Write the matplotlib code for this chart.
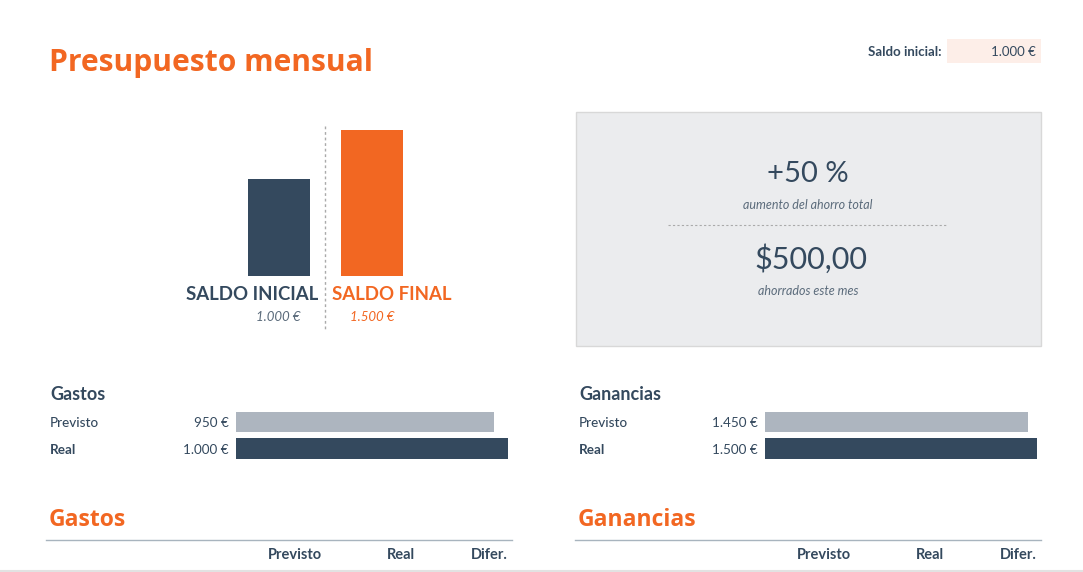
import matplotlib.pyplot as plt
from matplotlib.patches import Rectangle

# datos
saldo_inicial = 1000
saldo_final = 1500
saldo_labels = ['SALDO INICIAL', 'SALDO FINAL']
filas = ['Previsto', 'Real']
gastos = [950, 1000]
ganancias = [1450, 1500]
columnas = ['Previsto', 'Real', 'Difer.']

NAVY = '#34495E'
ORANGE = '#F26722'
GREY_BAR = '#ADB5BF'
SUB = '#5B6B7B'
TITLE_FONT = ['Open Sans', 'DejaVu Sans']

plt.rcParams['font.family'] = ['Lato', 'DejaVu Sans']

W, H = 1083, 572
fig = plt.figure(figsize=(W / 100, H / 100), dpi=100)
fig.patch.set_facecolor('white')


def eur(v):
    return f"{v:,.0f}".replace(',', '.') + ' €'


def px_axes(x0, y0, x1, y1):
    # caja en pixeles (origen arriba-izquierda) -> fraccion de figura
    return fig.add_axes([x0 / W, 1 - y1 / H, (x1 - x0) / W, (y1 - y0) / H])


# capa de fondo en pixeles para textos y cajas
bg = fig.add_axes([0, 0, 1, 1])
bg.set_xlim(0, W)
bg.set_ylim(H, 0)
bg.set_axis_off()

bg.text(49, 63, 'Presupuesto mensual', color=ORANGE, fontsize=21.6,
        fontweight='bold', family=TITLE_FONT, va='center', ha='left')

bg.add_patch(Rectangle((947, 39), 94, 24, color='#FDEEE8', lw=0))
bg.text(941, 52, 'Saldo inicial:', color=NAVY, fontsize=9.5,
        fontweight='bold', ha='right', va='center')
bg.text(1036, 52, eur(saldo_inicial), color=NAVY, fontsize=9.5,
        ha='right', va='center')

# grafico de saldos
ax = px_axes(232.5, 130, 418.5, 276)
ax.bar([0, 1], [saldo_inicial, saldo_final], width=0.667,
       color=[NAVY, ORANGE])
ax.set_xlim(-0.5, 1.5)
ax.set_ylim(0, saldo_final)
ax.set_axis_off()

bg.plot([325, 325], [126, 330], color='#AAAAAA', lw=1, ls=(0, (2, 2)))
bg.text(318, 294, saldo_labels[0], color=NAVY, fontsize=13.4,
        fontweight='bold', ha='right', va='center')
bg.text(332, 294, saldo_labels[1], color=ORANGE, fontsize=13.4,
        fontweight='bold', ha='left', va='center')
bg.text(300, 317, eur(saldo_inicial), color=SUB, fontsize=9.5,
        style='italic', ha='right', va='center')
bg.text(350, 317, eur(saldo_final), color=ORANGE, fontsize=9.5,
        style='italic', ha='left', va='center')

# caja de ahorro
bg.add_patch(Rectangle((575.5, 111.5), 465, 234, facecolor='#EBECEE',
                       edgecolor='#D8D8D8', lw=1))
pct = (saldo_final - saldo_inicial) / saldo_inicial * 100
ahorro = saldo_final - saldo_inicial
bg.text(808, 174, f'+{pct:.0f} %', color=NAVY, fontsize=21,
        ha='center', va='center')
bg.text(808, 205, 'aumento del ahorro total', color=SUB, fontsize=9,
        style='italic', ha='center', va='center')
bg.plot([668, 946], [225, 225], color='#AAAAAA', lw=0.8, ls=(0, (2, 2)))
bg.text(811, 259, f'${ahorro:.2f}'.replace('.', ','), color=NAVY,
        fontsize=22, ha='center', va='center')
bg.text(808, 291, 'ahorrados este mes', color=SUB, fontsize=9,
        style='italic', ha='center', va='center')


def barras(x_lab, x_val, x0, vals, vmax, titulo):
    bg.text(x_lab, 394, titulo, color=NAVY, fontsize=13,
            fontweight='bold', ha='left', va='center')
    a = px_axes(x0, 408.75, x0 + 272, 461.75)
    a.barh([0, 1], vals, height=0.77, color=[GREY_BAR, NAVY])
    a.set_xlim(0, vmax)
    a.set_ylim(1.5, -0.5)
    a.set_axis_off()
    for i, (f, v) in enumerate(zip(filas, vals)):
        y = 423 + i * 26.5
        bg.text(x_lab, y, f, color=NAVY, fontsize=9.7,
                fontweight='bold' if i == 1 else 'medium',
                ha='left', va='center')
        bg.text(x_val, y, eur(v), color=NAVY, fontsize=9.7,
                ha='right', va='center')


barras(50, 229, 236, gastos, max(gastos), 'Gastos')
barras(579, 758, 765, ganancias, max(ganancias), 'Ganancias')


def tabla(x_tit, x0, x1, xs, titulo):
    bg.text(x_tit, 520, titulo, color=ORANGE, fontsize=16.5,
            fontweight='bold', family=TITLE_FONT, ha='left', va='center')
    bg.plot([x0, x1], [540, 540], color='#A8B4BE', lw=1)
    for c, x in zip(columnas, xs):
        bg.text(x, 555, c, color=NAVY, fontsize=10.5, fontweight='bold',
                ha='right', va='center')


tabla(49, 46, 512, [322, 415, 508], 'Gastos')
tabla(578, 575, 1041, [851, 944, 1037], 'Ganancias')

bg.plot([0, W], [571, 571], color='#E2E2E2', lw=1.5)

fig.savefig('out.png', dpi=100, facecolor='white')
